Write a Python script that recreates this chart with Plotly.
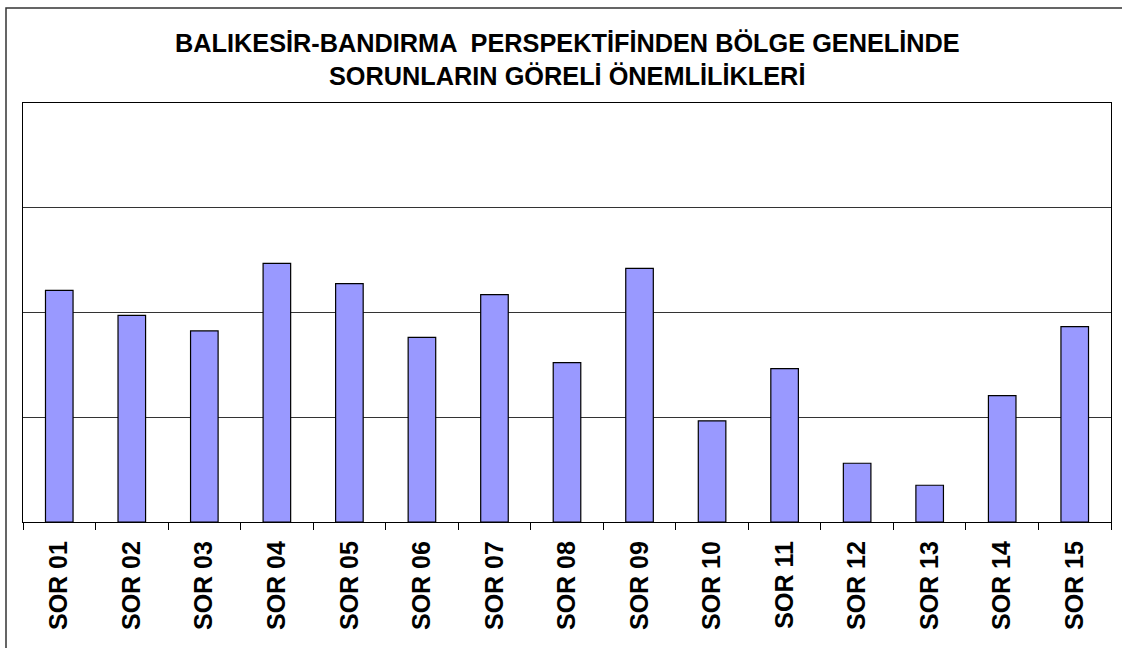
import plotly.graph_objects as go

categories = ["SOR 01", "SOR 02", "SOR 03", "SOR 04", "SOR 05", "SOR 06", "SOR 07", "SOR 08",
              "SOR 09", "SOR 10", "SOR 11", "SOR 12", "SOR 13", "SOR 14", "SOR 15"]
values = [2.212, 1.973, 1.824, 2.469, 2.276, 1.763, 2.171, 1.522,
          2.422, 0.966, 1.465, 0.561, 0.351, 1.207, 1.865]
title_lines = ["BALIKESİR-BANDIRMA  PERSPEKTİFİNDEN BÖLGE GENELİNDE",
               "SORUNLARIN GÖRELİ ÖNEMLİLİKLERİ"]

W, H = 1122, 648
ML, MR, MT, MB = 23, 11, 103, 126
pw, ph = W - ML - MR, H - MT - MB

def px(x):
    return (x - ML) / pw

def py(y):
    return (H - MB - y) / ph

FONT = "Liberation Sans, Arial, sans-serif"

fig = go.Figure(go.Bar(
    x=categories, y=values,
    marker=dict(color="#9999FF", line=dict(color="#000000", width=1.2)),
    width=0.38,
))

fig.update_layout(
    width=W, height=H,
    margin=dict(l=ML, r=MR, t=MT, b=MB, pad=0),
    paper_bgcolor="white", plot_bgcolor="white",
    showlegend=False,
    font=dict(family=FONT, color="black"),
    xaxis=dict(
        type="category",
        showline=True, linecolor="black", linewidth=1.2, mirror=True,
        ticks="outside", tickson="boundaries", ticklen=7, tickcolor="black", tickwidth=1,
        tickangle=-90, ticklabelstandoff=8,
        tickfont=dict(family=FONT, size=25, weight="bold", color="black"),
        showgrid=False,
    ),
    yaxis=dict(
        range=[0, 4], dtick=1, showticklabels=False,
        showgrid=True, gridcolor="#333333", gridwidth=1,
        showline=True, linecolor="black", linewidth=1.2, mirror=True,
        ticks="", zeroline=False,
    ),
    shapes=[
        dict(type="rect", xref="paper", yref="paper",
             x0=px(6), x1=px(W + 20), y0=py(H + 20), y1=py(8),
             line=dict(color="#333333", width=1.5), fillcolor="rgba(0,0,0,0)", layer="below"),
    ],
    annotations=[
        dict(text=title_lines[0], xref="paper", yref="paper", x=0.5, y=py(43),
             xanchor="center", yanchor="middle", showarrow=False,
             font=dict(family=FONT, size=25.3, weight="bold", color="black")),
        dict(text=title_lines[1], xref="paper", yref="paper", x=0.5, y=py(76),
             xanchor="center", yanchor="middle", showarrow=False,
             font=dict(family=FONT, size=25.3, weight="bold", color="black")),
    ],
)

fig.write_html("out.html", config={"displayModeBar": False},
               post_script="document.body.style.margin='0';document.body.style.padding='0';")
